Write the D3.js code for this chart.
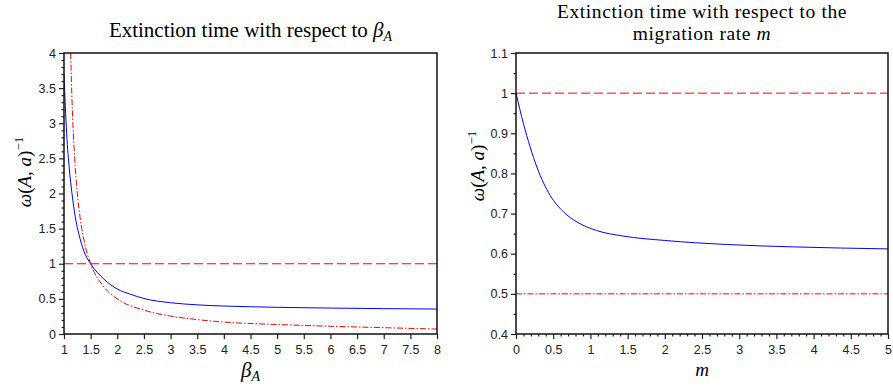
<!DOCTYPE html>
<html lang="en">
<head>
<meta charset="utf-8">
<title>Extinction time</title>
<script src="https://cdnjs.cloudflare.com/ajax/libs/d3/7.8.5/d3.min.js"></script>
<style>
  body { margin: 0; background: #fff; }
</style>
</head>
<body>
<script>
// left panel: extinction time against beta_A
var betaBlue = [1.0, 1.05, 1.1, 1.15, 1.2, 1.3, 1.4, 1.5, 1.75, 2.0, 2.25, 2.5, 3.0, 3.5, 4.0, 4.5, 5.0, 6.0, 7.0, 8.0];
var omegaBlue = [3.7, 2.85, 2.35, 2.0, 1.72, 1.36, 1.13, 1.0, 0.78, 0.64, 0.565, 0.505, 0.445, 0.415, 0.398, 0.388, 0.38, 0.369, 0.361, 0.355];
var betaRed = [1.125, 1.15, 1.2, 1.25, 1.3, 1.4, 1.5, 1.75, 2.0, 2.5, 3.0, 3.5, 4.0, 5.0, 6.0, 7.0, 8.0];
var omegaRed = [4.0, 3.33, 2.5, 2.0, 1.67, 1.25, 1.0, 0.67, 0.5, 0.34, 0.255, 0.205, 0.17, 0.135, 0.11, 0.09, 0.07];
var leftRefLine = 1;

// right panel: extinction time against migration rate m
var mValues = [0, 0.1, 0.19, 0.28, 0.46, 0.64, 0.82, 1.08, 1.44, 2.0, 2.83, 3.73, 5.0];
var omegaM = [1.0, 0.924, 0.866, 0.816, 0.745, 0.704, 0.679, 0.658, 0.644, 0.633, 0.623, 0.617, 0.612];
var rightRefDashed = 1;
var rightRefDashDot = 0.5;

// tick labels
var leftXTicks = [1, 1.5, 2, 2.5, 3, 3.5, 4, 4.5, 5, 5.5, 6, 6.5, 7, 7.5, 8];
var leftYTicks = [0, 0.5, 1, 1.5, 2, 2.5, 3, 3.5, 4];
var rightXTicks = [0, 0.5, 1, 1.5, 2, 2.5, 3, 3.5, 4, 4.5, 5];
var rightYTicks = [0.4, 0.5, 0.6, 0.7, 0.8, 0.9, 1, 1.1];

var w = 893, h = 386;
var svg = d3.select("body").append("svg")
  .attr("width", w)
  .attr("height", h);

var serif = "'Liberation Serif', 'DejaVu Serif', serif";
var sans = "'Liberation Sans', Arial, sans-serif";

function drawPanel(p) {
  var x = d3.scaleLinear().domain(p.xDomain).range([p.left, p.right]);
  var y = d3.scaleLinear().domain(p.yDomain).range([p.bottom, p.top]);
  var g = svg.append("g");

  var clipId = "clip" + p.id;
  g.append("clipPath").attr("id", clipId)
    .append("rect")
    .attr("x", p.left).attr("y", p.top)
    .attr("width", p.right - p.left).attr("height", p.bottom - p.top);

  var xAxis = d3.axisBottom(x).tickValues(p.xTicks).tickSize(5).tickPadding(6)
    .tickFormat(function(d) { return String(d); });
  var yAxis = d3.axisLeft(y).tickValues(p.yTicks).tickSize(5).tickPadding(3)
    .tickFormat(function(d) { return String(d); });

  // minor ticks
  if (p.xMinor) {
    g.append("g")
      .attr("transform", "translate(0," + p.bottom + ")")
      .call(d3.axisBottom(x).tickValues(p.xMinor).tickSize(2.5).tickFormat(""))
      .call(function(s) { s.select(".domain").remove(); });
  }
  if (p.yMinor) {
    g.append("g")
      .attr("transform", "translate(" + p.left + ",0)")
      .call(d3.axisLeft(y).tickValues(p.yMinor).tickSize(2.5).tickFormat(""))
      .call(function(s) { s.select(".domain").remove(); });
  }

  var gx = g.append("g")
    .attr("transform", "translate(0," + p.bottom + ")")
    .call(xAxis);
  var gy = g.append("g")
    .attr("transform", "translate(" + p.left + ",0)")
    .call(yAxis);
  [gx, gy].forEach(function(a) {
    a.select(".domain").remove();
    a.selectAll("text")
      .attr("font-family", sans)
      .attr("font-size", "12.5px")
      .attr("fill", "#222");
  });
  g.selectAll(".tick line").attr("stroke", "#222").attr("stroke-width", 1.2);

  var plot = g.append("g").attr("clip-path", "url(#" + clipId + ")");

  p.refLines.forEach(function(r) {
    plot.append("line")
      .attr("x1", p.left).attr("x2", p.right)
      .attr("y1", y(r.value)).attr("y2", y(r.value))
      .attr("stroke", "#ff0000")
      .attr("stroke-width", 1)
      .attr("stroke-dasharray", r.dash);
  });

  p.curves.forEach(function(c) {
    var pts = c.xs.map(function(v, i) { return [v, c.ys[i]]; });
    var line = d3.line()
      .x(function(d) { return x(d[0]); })
      .y(function(d) { return y(d[1]); })
      .curve(d3.curveMonotoneX);
    plot.append("path")
      .datum(pts)
      .attr("d", line)
      .attr("fill", "none")
      .attr("stroke", c.color)
      .attr("stroke-width", 1)
      .attr("stroke-dasharray", c.dash || null);
  });

  // frame
  g.append("rect")
    .attr("x", p.left).attr("y", p.top)
    .attr("width", p.right - p.left).attr("height", p.bottom - p.top)
    .attr("fill", "none")
    .attr("stroke", "#111")
    .attr("stroke-width", 1.5);

  // title (one text element per line)
  p.titleLines.forEach(function(fill, i) {
    var t = g.append("text")
      .attr("text-anchor", "middle")
      .attr("font-family", serif)
      .attr("font-size", p.titleSize)
      .attr("letter-spacing", p.titleSpacing)
      .attr("x", (p.left + p.right) / 2)
      .attr("y", p.titleY[i]);
    fill(t);
  });

  // x label
  p.xLabel(g.append("text")
    .attr("text-anchor", "middle")
    .attr("font-family", serif)
    .attr("font-size", "21px")
    .attr("x", (p.left + p.right) / 2));

  // y label
  var yl = g.append("text")
    .attr("text-anchor", "middle")
    .attr("font-family", serif)
    .attr("font-size", "19px")
    .attr("transform", "translate(" + p.yLabelX + "," + p.yLabelY + ") rotate(-90)");
  yl.append("tspan").attr("font-style", "italic").text("ω");
  yl.append("tspan").text("(");
  yl.append("tspan").attr("font-style", "italic").text("A");
  yl.append("tspan").text(", ");
  yl.append("tspan").attr("font-style", "italic").text("a");
  yl.append("tspan").text(")");
  yl.append("tspan").attr("font-size", "13px").attr("dy", "-8").text("−1");
}

drawPanel({
  id: "L",
  left: 64, right: 437, top: 53, bottom: 334,
  xDomain: [1, 8], yDomain: [0, 4],
  xTicks: leftXTicks, yTicks: leftYTicks,
  xMinor: null,
  yMinor: d3.range(0, 40).map(function(i) { return i / 10; }).filter(function(v, i) { return i % 5 !== 0; }),
  refLines: [{ value: leftRefLine, dash: "9,4" }],
  curves: [
    { xs: betaBlue, ys: omegaBlue, color: "#0000ff" },
    { xs: betaRed, ys: omegaRed, color: "#ff0000", dash: "6,2,1.5,2" }
  ],
  titleSize: "21px",
  titleSpacing: 0,
  titleY: [37],
  titleLines: [function(t) {
    t.append("tspan").text("Extinction time with respect to ");
    t.append("tspan").attr("font-style", "italic").text("β");
    t.append("tspan").attr("font-style", "italic").attr("font-size", "14px").attr("dy", 4).text("A");
  }],
  xLabel: function(t) {
    t.attr("y", 377);
    t.append("tspan").attr("font-style", "italic").text("β");
    t.append("tspan").attr("font-style", "italic").attr("font-size", "14px").attr("dy", 4).text("A");
  },
  yLabelX: 31, yLabelY: 172
});

drawPanel({
  id: "R",
  left: 516, right: 888, top: 53, bottom: 334,
  xDomain: [0, 5], yDomain: [0.4, 1.1],
  xTicks: rightXTicks, yTicks: rightYTicks,
  xMinor: d3.range(0, 50).map(function(i) { return i / 10; }).filter(function(v, i) { return i % 5 !== 0; }),
  yMinor: d3.range(0, 7).map(function(i) { return 0.45 + i / 10; }),
  refLines: [
    { value: rightRefDashed, dash: "9,4" },
    { value: rightRefDashDot, dash: "6,2,1.5,2" }
  ],
  curves: [
    { xs: mValues, ys: omegaM, color: "#0000ff" }
  ],
  titleSize: "19.5px",
  titleSpacing: 0.6,
  titleY: [18, 40],
  titleLines: [
    function(t) { t.text("Extinction time with respect to the"); },
    function(t) {
      t.append("tspan").text("migration rate ");
      t.append("tspan").attr("font-style", "italic").text("m");
    }
  ],
  xLabel: function(t) {
    t.attr("y", 376).attr("font-size", "19px");
    t.append("tspan").attr("font-style", "italic").text("m");
  },
  yLabelX: 484, yLabelY: 166
});
</script>
</body>
</html>
